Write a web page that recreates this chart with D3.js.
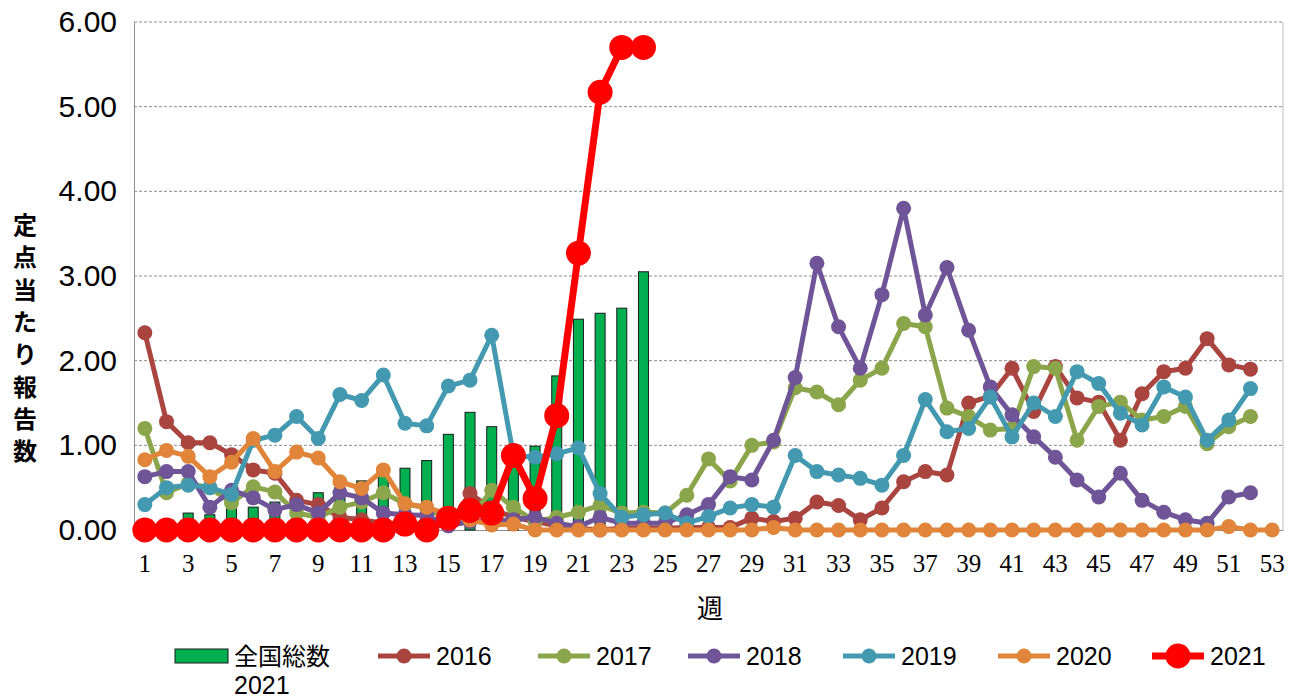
<!DOCTYPE html>
<html>
<head>
<meta charset="utf-8">
<script src="https://cdn.jsdelivr.net/npm/d3@7"></script>
<style>
  body { margin: 0; background: #fff; }
</style>
</head>
<body>
<script>
// weeks and values
var weeks = d3.range(1, 54);
var tickWeeks = weeks.filter(function (w) { return w % 2 == 1; });
var yTicks = [0, 1, 2, 3, 4, 5, 6];

var bars2021 = [0.08, 0.12, 0.20, 0.18, 0.27, 0.27, 0.33, 0.40, 0.44, 0.50, 0.58, 0.65,
  0.73, 0.82, 1.13, 1.39, 1.22, 0.85, 0.99, 1.82, 2.49, 2.56, 2.62, 3.05];

var s2016 = [2.33, 1.28, 1.03, 1.03, 0.89, 0.71, 0.67, 0.35, 0.30, 0.15, 0.12, 0.08, 0.08,
  0.05, 0.05, 0.43, 0.25, 0.15, 0.10, 0.05, 0.02, 0.00, 0.02, 0.02, 0.02, 0.03, 0.03, 0.03,
  0.14, 0.10, 0.14, 0.33, 0.29, 0.12, 0.26, 0.57, 0.69, 0.65, 1.50, 1.58, 1.91, 1.40, 1.93,
  1.56, 1.51, 1.06, 1.61, 1.87, 1.91, 2.26, 1.95, 1.90];
var s2017 = [1.20, 0.44, 0.55, 0.50, 0.32, 0.51, 0.45, 0.20, 0.15, 0.27, 0.33, 0.44, 0.31,
  0.26, 0.12, 0.14, 0.47, 0.27, 0.10, 0.15, 0.21, 0.29, 0.20, 0.21, 0.20, 0.41, 0.84, 0.58,
  1.00, 1.04, 1.68, 1.63, 1.48, 1.77, 1.91, 2.44, 2.40, 1.44, 1.34, 1.18, 1.20, 1.93, 1.91,
  1.06, 1.46, 1.51, 1.30, 1.34, 1.46, 1.02, 1.22, 1.34];
var s2018 = [0.63, 0.69, 0.69, 0.27, 0.47, 0.38, 0.24, 0.30, 0.20, 0.44, 0.38, 0.20, 0.18,
  0.17, 0.05, 0.10, 0.10, 0.12, 0.15, 0.08, 0.04, 0.15, 0.08, 0.08, 0.08, 0.18, 0.30, 0.63,
  0.59, 1.06, 1.80, 3.15, 2.40, 1.91, 2.78, 3.80, 2.54, 3.10, 2.36, 1.69, 1.36, 1.10, 0.86,
  0.59, 0.39, 0.67, 0.35, 0.21, 0.12, 0.08, 0.39, 0.44];
var s2019 = [0.30, 0.50, 0.53, 0.50, 0.42, 1.06, 1.12, 1.34, 1.08, 1.60, 1.53, 1.83, 1.26,
  1.23, 1.70, 1.77, 2.30, 0.88, 0.86, 0.90, 0.97, 0.43, 0.15, 0.18, 0.20, 0.08, 0.16, 0.26,
  0.30, 0.27, 0.88, 0.69, 0.65, 0.61, 0.53, 0.88, 1.54, 1.16, 1.20, 1.57, 1.10, 1.50, 1.34,
  1.87, 1.73, 1.38, 1.24, 1.69, 1.57, 1.06, 1.30, 1.67];
var s2020 = [0.83, 0.94, 0.87, 0.63, 0.80, 1.08, 0.69, 0.92, 0.85, 0.57, 0.49, 0.71, 0.31,
  0.27, 0.18, 0.12, 0.06, 0.07, 0, 0, 0, 0, 0, 0, 0, 0, 0, 0, 0, 0.03,
  0, 0, 0, 0, 0, 0, 0, 0, 0, 0, 0, 0, 0, 0, 0, 0, 0, 0, 0, 0,
  0.04, 0, 0];
var s2021 = [0, 0, 0, 0, 0, 0, 0, 0, 0, 0, 0, 0, 0.07, 0, 0.14, 0.23, 0.20, 0.88, 0.37,
  1.35, 3.27, 5.17, 5.70, 5.70];

var lineSeries = [
  { name: "2016", values: s2016, color: "#a9443f", r: 7.5, w: 5 },
  { name: "2017", values: s2017, color: "#8ba64a", r: 7.5, w: 5 },
  { name: "2018", values: s2018, color: "#6f5597", r: 7.5, w: 5 },
  { name: "2019", values: s2019, color: "#4299b0", r: 7.5, w: 5 },
  { name: "2020", values: s2020, color: "#e0853a", r: 7.5, w: 5 },
  { name: "2021", values: s2021, color: "#ff0000", r: 12.5, w: 7 }
];

var plotLeft = 134, plotRight = 1283, plotTop = 22, plotBottom = 530;

var svg = d3.select("body")
    .append("svg")
    .attr("width", 1300)
    .attr("height", 700)
    .style("display", "block");

svg.append("rect").attr("width", 1300).attr("height", 700).attr("fill", "#fff");

var x = d3.scaleBand()
    .domain(weeks)
    .range([plotLeft, plotRight]);

var y = d3.scaleLinear()
    .domain([0, 6])
    .range([plotBottom, plotTop]);

function cx(i) { return x(weeks[i]) + x.bandwidth() / 2; }

// gridlines
svg.append("g")
    .selectAll("line")
    .data(yTicks.filter(function (d) { return d > 0; }))
    .enter().append("line")
    .attr("x1", plotLeft).attr("x2", plotRight)
    .attr("y1", function (d) { return y(d); })
    .attr("y2", function (d) { return y(d); })
    .attr("stroke", "#8c8c8c")
    .attr("stroke-width", 1)
    .attr("stroke-dasharray", "3,2");

// right border
svg.append("line")
    .attr("x1", plotRight).attr("x2", plotRight)
    .attr("y1", plotTop).attr("y2", plotBottom)
    .attr("stroke", "#bdbdbd");

// y axis
var yAxis = svg.append("g")
    .attr("transform", "translate(" + plotLeft + ",0)")
    .call(d3.axisLeft(y).tickValues(yTicks).tickFormat(d3.format(".2f")).tickSize(0).tickPadding(17));
yAxis.select(".domain").attr("stroke", "#8c8c8c");
yAxis.selectAll("text")
    .attr("font-family", "Liberation Sans, Arial, sans-serif")
    .attr("font-size", "30px")
    .attr("fill", "#000");

// x axis
var xAxis = svg.append("g")
    .attr("transform", "translate(0," + plotBottom + ")")
    .call(d3.axisBottom(x).tickValues(tickWeeks).tickSize(0).tickPadding(24));
xAxis.select(".domain").attr("stroke", "#8c8c8c");
xAxis.selectAll("text")
    .attr("font-family", "Liberation Serif, Times New Roman, serif")
    .attr("font-size", "25px")
    .attr("fill", "#000");

// bars
var barW = 10;
svg.append("g")
    .selectAll("rect")
    .data(bars2021)
    .enter().append("rect")
    .attr("x", function (d, i) { return cx(i) - barW / 2; })
    .attr("y", function (d) { return y(d); })
    .attr("width", barW)
    .attr("height", function (d) { return plotBottom - y(d); })
    .attr("fill", "#00b050")
    .attr("stroke", "#1a1a1a")
    .attr("stroke-width", 1);

// lines + markers
lineSeries.forEach(function (s) {
  var line = d3.line()
      .x(function (d, i) { return cx(i); })
      .y(function (d) { return y(d); });
  var g = svg.append("g");
  g.append("path")
      .datum(s.values)
      .attr("d", line)
      .attr("fill", "none")
      .attr("stroke", s.color)
      .attr("stroke-width", s.w)
      .attr("stroke-linejoin", "round");
  g.selectAll("circle")
      .data(s.values)
      .enter().append("circle")
      .attr("cx", function (d, i) { return cx(i); })
      .attr("cy", function (d) { return y(d); })
      .attr("r", s.r)
      .attr("fill", s.color);
});

// axis titles
svg.append("text")
    .attr("x", 710)
    .attr("y", 618)
    .attr("text-anchor", "middle")
    .attr("font-family", "Noto Sans CJK JP")
    .attr("font-size", "26px")
    .text("週");

var yTitle = "定点当たり報告数".split("");
svg.append("g")
    .selectAll("text")
    .data(yTitle)
    .enter().append("text")
    .attr("x", 25)
    .attr("y", function (d, i) { return 234 + i * 32.3; })
    .attr("text-anchor", "middle")
    .attr("font-family", "Noto Sans CJK JP")
    .attr("font-weight", "bold")
    .attr("font-size", "24px")
    .text(function (d) { return d; });

// legend
var leg = svg.append("g").attr("font-family", "Liberation Sans, Arial, sans-serif").attr("font-size", "25px");
leg.append("rect")
    .attr("x", 175).attr("y", 649).attr("width", 53).attr("height", 14)
    .attr("fill", "#00b050").attr("stroke", "#1a1a1a");
leg.append("text").attr("x", 234).attr("y", 665)
    .attr("font-family", "Noto Sans CJK JP").attr("font-size", "24px").text("全国総数");
leg.append("text").attr("x", 234).attr("y", 694).text("2021");

var legX = [378, 538, 688, 843, 998, 1152];
lineSeries.forEach(function (s, i) {
  var lx = legX[i];
  leg.append("line")
      .attr("x1", lx).attr("x2", lx + 52)
      .attr("y1", 656).attr("y2", 656)
      .attr("stroke", s.color).attr("stroke-width", s.w);
  leg.append("circle")
      .attr("cx", lx + 26).attr("cy", 656).attr("r", s.r)
      .attr("fill", s.color);
  leg.append("text")
      .attr("x", lx + 58).attr("y", 665)
      .text(s.name);
});
</script>
</body>
</html>
